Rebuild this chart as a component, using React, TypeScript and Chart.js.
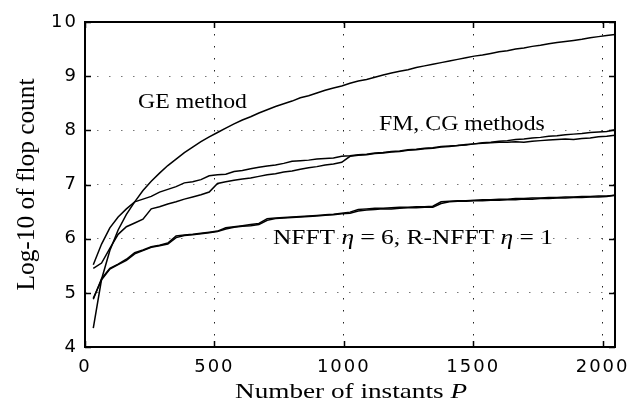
import React, { useEffect, useRef } from "react";
import { Chart, registerables } from "chart.js";

Chart.register(...registerables);

// Number of instants P
const instants = [
  32, 64, 96, 128, 160, 192, 224, 256, 288, 320, 352, 384, 416, 448, 480, 512,
  544, 576, 608, 640, 672, 704, 736, 768, 800, 832, 864, 896, 928, 960, 992, 1024,
  1056, 1088, 1120, 1152, 1184, 1216, 1248, 1280, 1312, 1344, 1376, 1408, 1440, 1472, 1504, 1536,
  1568, 1600, 1632, 1664, 1696, 1728, 1760, 1792, 1824, 1856, 1888, 1920, 1952, 1984, 2016, 2048,
];

// log10 of flop count
const geFlops = [
  4.35, 5.25, 5.78, 6.16, 6.45, 6.68, 6.89, 7.06, 7.21, 7.35, 7.47, 7.59, 7.69, 7.79, 7.88, 7.96,
  8.04, 8.12, 8.19, 8.25, 8.32, 8.38, 8.44, 8.49, 8.54, 8.6, 8.64, 8.69, 8.74, 8.78, 8.82, 8.87,
  8.91, 8.94, 8.98, 9.02, 9.06, 9.09, 9.12, 9.16, 9.19, 9.22, 9.25, 9.28, 9.31, 9.34, 9.37, 9.39,
  9.42, 9.45, 9.47, 9.5, 9.52, 9.55, 9.57, 9.6, 9.62, 9.64, 9.66, 9.68, 9.71, 9.73, 9.75, 9.77,
];

const fmFlops = [
  5.52, 5.9, 6.2, 6.4, 6.55, 6.68, 6.73, 6.78, 6.86, 6.91, 6.96, 7.03, 7.05, 7.09, 7.16, 7.18,
  7.19, 7.24, 7.26, 7.29, 7.32, 7.34, 7.36, 7.39, 7.43, 7.44, 7.45, 7.47, 7.48, 7.49, 7.52, 7.53,
  7.55, 7.56, 7.58, 7.59, 7.61, 7.62, 7.64, 7.65, 7.67, 7.68, 7.7, 7.71, 7.72, 7.74, 7.75, 7.76,
  7.77, 7.78, 7.78, 7.79, 7.78, 7.8, 7.81, 7.82, 7.83, 7.84, 7.83, 7.85, 7.86, 7.88, 7.89, 7.91,
];

const cgFlops = [
  5.45, 5.55, 5.82, 6.08, 6.22, 6.29, 6.36, 6.55, 6.59, 6.64, 6.68, 6.73, 6.77, 6.81, 6.86, 7.02,
  7.05, 7.08, 7.1, 7.12, 7.15, 7.18, 7.2, 7.23, 7.25, 7.28, 7.31, 7.33, 7.36, 7.38, 7.41, 7.52,
  7.54, 7.55, 7.57, 7.58, 7.6, 7.61, 7.63, 7.64, 7.66, 7.67, 7.69, 7.7, 7.72, 7.73, 7.75, 7.77,
  7.78, 7.8, 7.81, 7.83, 7.84, 7.86, 7.87, 7.89, 7.9, 7.92, 7.93, 7.94, 7.96, 7.97, 7.98, 8.01,
];

const nfftFlops = [
  4.88, 5.26, 5.45, 5.53, 5.62, 5.74, 5.79, 5.85, 5.88, 5.92, 6.05, 6.07, 6.08, 6.1, 6.12, 6.14,
  6.2, 6.22, 6.24, 6.26, 6.28, 6.37, 6.38, 6.39, 6.4, 6.41, 6.42, 6.43, 6.44, 6.45, 6.47, 6.49,
  6.54, 6.55, 6.56, 6.56, 6.57, 6.58, 6.58, 6.59, 6.59, 6.6, 6.68, 6.69, 6.7, 6.7, 6.71, 6.72,
  6.72, 6.73, 6.73, 6.74, 6.74, 6.75, 6.75, 6.76, 6.76, 6.77, 6.77, 6.78, 6.78, 6.79, 6.79, 6.8,
];

const rnfftFlops = [
  4.9, 5.24, 5.44, 5.52, 5.6, 5.72, 5.78, 5.84, 5.87, 5.9, 6.02, 6.06, 6.07, 6.09, 6.11, 6.13,
  6.18, 6.21, 6.23, 6.24, 6.26, 6.34, 6.37, 6.38, 6.39, 6.4, 6.41, 6.42, 6.43, 6.44, 6.46, 6.47,
  6.51, 6.53, 6.54, 6.55, 6.55, 6.56, 6.57, 6.57, 6.58, 6.58, 6.65, 6.68, 6.69, 6.69, 6.7, 6.7,
  6.71, 6.71, 6.72, 6.72, 6.73, 6.73, 6.74, 6.74, 6.75, 6.75, 6.76, 6.76, 6.77, 6.77, 6.78, 6.8,
];

const xTickValues = [0, 500, 1000, 1500, 2000];
const yTickValues = [4, 5, 6, 7, 8, 9, 10];

const xTitleParts = [
  { t: "Number of instants ", italic: false },
  { t: "P", italic: true },
];
const yTitle = "Log-10 of flop count";

type Part = { t: string; italic: boolean };
const annotations: { parts: Part[]; x: number; y: number; w: number }[] = [
  { parts: [{ t: "GE method", italic: false }], x: 205, y: 8.41, w: 421 },
  { parts: [{ t: "FM, CG methods", italic: false }], x: 1136, y: 8.0, w: 641 },
  {
    parts: [
      { t: "NFFT ", italic: false },
      { t: "η", italic: true },
      { t: " = 6, R-NFFT ", italic: false },
      { t: "η", italic: true },
      { t: " = 1", italic: false },
    ],
    x: 726,
    y: 5.91,
    w: 1082,
  },
];

const SERIF = '"Liberation Serif", "Times New Roman", serif';

function richWidth(ctx: CanvasRenderingContext2D, parts: Part[], size: number) {
  let w = 0;
  for (const p of parts) {
    ctx.font = `${p.italic ? "italic " : ""}${size}px ${SERIF}`;
    w += ctx.measureText(p.t).width;
  }
  return w;
}

function drawRich(
  ctx: CanvasRenderingContext2D,
  parts: Part[],
  size: number,
  x: number,
  y: number,
  targetW: number,
  rotate = 0,
  sy = 1
) {
  const w = richWidth(ctx, parts, size);
  const sx = targetW / w;
  ctx.save();
  ctx.translate(x, y);
  if (rotate) ctx.rotate(rotate);
  ctx.scale(sx, sy);
  ctx.textAlign = "left";
  ctx.textBaseline = "alphabetic";
  ctx.fillStyle = "#000";
  let cx = 0;
  for (const p of parts) {
    ctx.font = `${p.italic ? "italic " : ""}${size}px ${SERIF}`;
    ctx.fillText(p.t, cx, 0);
    cx += ctx.measureText(p.t).width;
  }
  ctx.restore();
}

const decorPlugin = {
  id: "decor",
  beforeDraw(chart: any) {
    (chart.ctx as any).letterSpacing = "2px";
  },
  afterDraw(chart: any) {
    const ctx: CanvasRenderingContext2D = chart.ctx;
    (ctx as any).letterSpacing = "0px";
    const { left, right, top, bottom } = chart.chartArea;
    const xs = chart.scales.x;
    const ys = chart.scales.y;
    ctx.save();
    ctx.strokeStyle = "#000";
    ctx.setLineDash([]);
    // inward ticks
    ctx.lineWidth = 1.5;
    const tl = 6;
    ctx.beginPath();
    for (const v of xTickValues) {
      const px = Math.round(xs.getPixelForValue(v)) + 0.5;
      ctx.moveTo(px, bottom);
      ctx.lineTo(px, bottom - tl);
      ctx.moveTo(px, top);
      ctx.lineTo(px, top + tl);
    }
    for (const v of yTickValues) {
      const py = Math.round(ys.getPixelForValue(v)) + 0.5;
      ctx.moveTo(left, py);
      ctx.lineTo(left + tl, py);
      ctx.moveTo(right, py);
      ctx.lineTo(right - tl, py);
    }
    ctx.stroke();
    // frame
    ctx.lineWidth = 2;
    ctx.strokeRect(left, top, right - left, bottom - top);

    // annotations
    for (const a of annotations) {
      const px = xs.getPixelForValue(a.x);
      const pw = xs.getPixelForValue(a.x + a.w) - px;
      const py = ys.getPixelForValue(a.y);
      drawRich(ctx, a.parts, 21, px, py, pw);
    }

    // axis titles
    const xMid = (left + right) / 2;
    drawRich(ctx, xTitleParts, 22, xMid - 116 + 1, 398, 232);
    const yMid = (top + bottom) / 2;
    drawRich(ctx, [{ t: yTitle, italic: false }], 22, 34, yMid + 106, 212, -Math.PI / 2, 1.14);
    ctx.restore();
  },
};

export default function App() {
  const ref = useRef<HTMLCanvasElement | null>(null);
  useEffect(() => {
    if (!ref.current) return;
    const line = (data: number[]) => ({
      data: instants.map((x, i) => ({ x, y: data[i] })),
      borderColor: "#000",
      borderWidth: 1.5,
      pointRadius: 0,
      fill: false,
      tension: 0,
    });
    const tickFont = { family: '"DejaVu Sans", sans-serif', size: 18 };
    const chart = new Chart(ref.current, {
      type: "line",
      data: {
        datasets: [
          { label: "GE method", ...line(geFlops) },
          { label: "FM method", ...line(fmFlops) },
          { label: "CG method", ...line(cgFlops) },
          { label: "NFFT eta=6", ...line(nfftFlops) },
          { label: "R-NFFT eta=1", ...line(rnfftFlops) },
        ],
      },
      options: {
        animation: false,
        responsive: false,
        maintainAspectRatio: false,
        layout: { padding: { top: 22, right: 27, left: 0, bottom: 0 } },
        plugins: { legend: { display: false }, tooltip: { enabled: false } },
        scales: {
          x: {
            type: "linear",
            min: 0,
            max: 2048,
            afterFit: (s: any) => {
              s.height = 58;
            },
            afterBuildTicks: (s: any) => {
              s.ticks = xTickValues.map((v) => ({ value: v }));
            },
            ticks: {
              font: tickFont,
              color: "#000",
              padding: 10,
              maxRotation: 0,
              autoSkip: false,
              includeBounds: false,
              callback: (v: any) => String(v),
            },
            grid: { color: "#222", lineWidth: 1, drawTicks: false },
            border: { display: false, dash: [1.5, 10.5] },
          },
          y: {
            type: "linear",
            min: 4,
            max: 10,
            afterFit: (s: any) => {
              s.width = 85;
            },
            afterBuildTicks: (s: any) => {
              s.ticks = yTickValues.map((v) => ({ value: v }));
            },
            ticks: {
              font: tickFont,
              color: "#000",
              padding: 7,
              autoSkip: false,
              includeBounds: false,
              callback: (v: any) => String(v),
            },
            grid: { color: "#777", lineWidth: 1, drawTicks: false },
            border: { display: false, dash: [1.5, 10.5] },
          },
        },
      },
      plugins: [decorPlugin],
    } as any);
    return () => chart.destroy();
  }, []);
  return (
    <div style={{ position: "absolute", left: 0, top: 0, width: 642, height: 405, background: "#fff" }}>
      <canvas ref={ref} width={642} height={405} style={{ display: "block" }} />
    </div>
  );
}
